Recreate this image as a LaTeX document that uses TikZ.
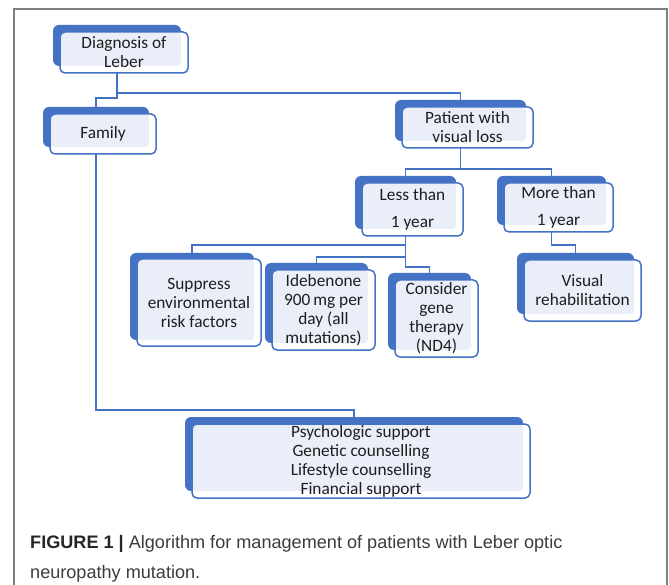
\documentclass[tikz,border=0pt]{standalone}
\usepackage{fontspec}
\setmainfont{Carlito}
\newfontfamily\capfont{Liberation Sans}
\usetikzlibrary{calc}
\definecolor{blueC}{HTML}{4472C4}
\definecolor{lightC}{HTML}{E9EEF8}
\definecolor{frameC}{HTML}{7F7F7F}
\definecolor{txtC}{HTML}{1E1E1E}
\definecolor{capC}{HTML}{3C3C3C}
\tikzset{
  boxtext/.style={align=center, inner sep=0pt, text=txtC, font=\fontsize{17.3}{19}\selectfont},
  conn/.style={blueC, line width=1.4pt},
  captext/.style={anchor=base west, inner sep=0pt, text=capC, font=\capfont\fontsize{18.1}{20}\selectfont}
}
\newcommand\LBox[5]{%
  \coordinate (#1-a) at #2;
  \coordinate (#1-b) at #3;
  \coordinate (#1-fa) at ($(#1-a)+#4$);
  \coordinate (#1-fb) at ($(#1-b)+#4$);
  \fill[blueC, rounded corners=6pt] (#1-a) rectangle (#1-b);
  \fill[white, rounded corners=5pt] (#1-fa) rectangle (#1-fb);
  \fill[lightC, rounded corners=4pt] (#1-fa) rectangle (#1-b);
  \draw[blueC, line width=1.5pt, rounded corners=5pt] (#1-fa) rectangle (#1-fb);
  \coordinate (#1-c) at ($(#1-a)!0.5!(#1-b)$);
  \coordinate (#1-top) at (#1-c |- #1-a);
  \coordinate (#1-bot) at (#1-c |- #1-fb);
  \node[boxtext] (#1) at ($(#1-fa)!0.5!(#1-fb)$) {#5};
}
\begin{document}
\begin{tikzpicture}[x=1pt,y=-1pt]
\useasboundingbox (0,0) rectangle (669,585);
\fill[white] (0,0) rectangle (669,585);
\draw[frameC, line width=1.5pt] (14,586) -- (14,9) -- (667,9) -- (667,586);

\LBox{diag}{(53,25)}{(181,66)}{(7,7)}{Diagnosis of\\Leber}
\LBox{fam}{(43,107)}{(149,147)}{(7,7)}{Family}
\LBox{pat}{(395,100)}{(526,141)}{(7,7)}{Patient with\\visual loss}
\LBox{less}{(355,176)}{(456,229)}{(7,7)}{Less than\\[8pt]1 year}
\LBox{more}{(497,176)}{(606,225)}{(7,7)}{More than\\[8pt]1 year}
\LBox{vis}{(517,253)}{(634,314)}{(7,7)}{Visual\\rehabilitation}
\LBox{sup}{(130,253)}{(254,340)}{(7,6)}{Suppress\\environmental\\risk factors}
\LBox{ide}{(265,263)}{(368,343)}{(7,7)}{Idebenone\\900\,mg per\\day (all\\mutations)}
\LBox{con}{(388,273)}{(471,350)}{(7,7)}{Consider\\gene\\therapy\\(ND4)}
\LBox{sp}{(185,417)}{(523,491)}{(7,7)}{Psychologic support\\Genetic counselling\\Lifestyle counselling\\Financial support}

\draw[conn] (diag-bot) -- ++(0,20) -| (pat-top);
\draw[conn] (diag-bot) -- ++(0,25) -| (fam-top);
\draw[conn] (pat-bot) -- ++(0,21) -| (less-top);
\draw[conn] (pat-bot) -- ++(0,21) -| (more-top);
\draw[conn] (more-bot) -- ++(0,13) -| (vis-top);
\draw[conn] (less-bot) -- ++(0,9) -| (sup-top);
\draw[conn] (less-bot) -- ++(0,21) -| (ide-top);
\draw[conn] (less-bot) -- ++(0,31) -| (con-top);
\draw[conn] (fam-bot) -- ++(0,256) -| (sp-top);

\node[captext] (cap1) at (30,548) {{\color{black!85}\textbf{FIGURE 1 |}} Algorithm for management of patients with Leber optic};
\node[captext] (cap2) at (30,578) {neuropathy mutation.};
\end{tikzpicture}
\end{document}
